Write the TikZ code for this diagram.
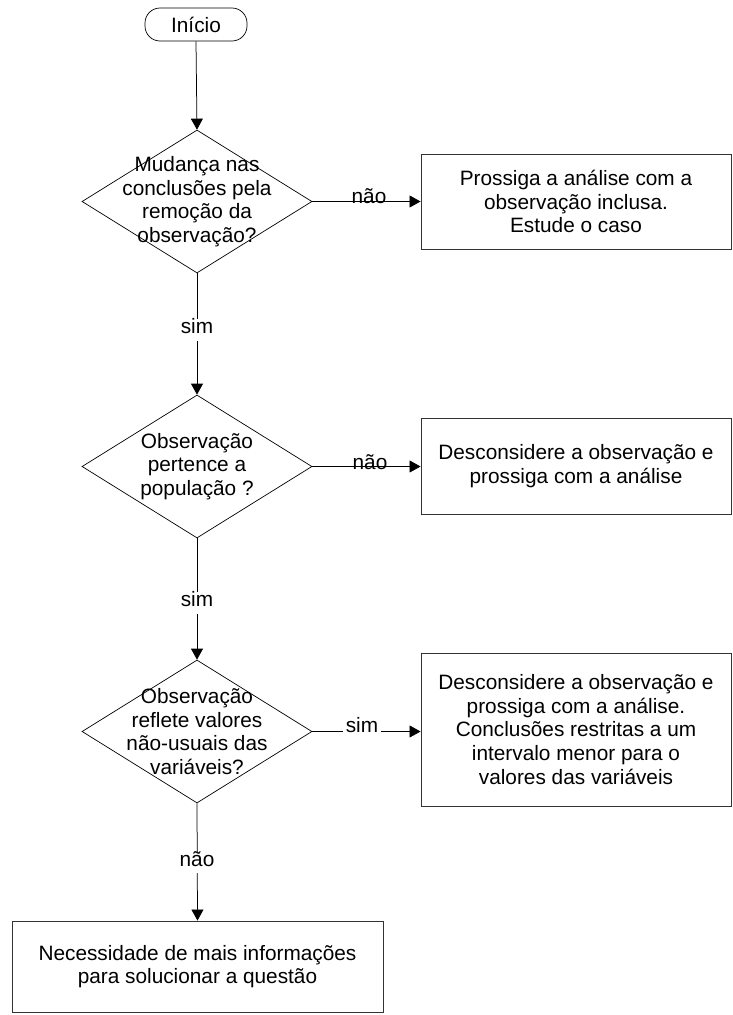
\documentclass[tikz,border=0pt]{standalone}
\usepackage{fontspec}
\setmainfont{Liberation Sans}
\usetikzlibrary{shapes.geometric,arrows.meta}

\tikzset{
  txt/.style={font=\fontsize{20.8}{23.6}\selectfont, align=center, text=black},
  procbox/.style={draw=black!80, line width=0.9pt, rectangle, inner sep=0pt},
  decision/.style={draw=black, line width=0.7pt, diamond, inner sep=0pt,
                   minimum width=230pt, minimum height=143pt},
  terminal/.style={draw=black, line width=0.7pt, rectangle, rounded corners=15pt,
                   minimum width=102pt, minimum height=33pt, inner sep=0pt},
  arr/.style={draw=black, line width=0.75pt, -{Triangle[length=11pt,width=12pt]}},
  vlbl/.style={txt, fill=white, text height=0.74em, text depth=0pt, inner xsep=3pt, inner ysep=7pt},
  hlbl/.style={txt, anchor=base, inner sep=0pt},
}

\begin{document}
\begin{tikzpicture}[x=1pt,y=-1pt]
  \useasboundingbox (0,0) rectangle (732,1015);

  % start
  \node[terminal, txt] (ini) at (196,24.5) {Início};

  % decisions (shapes only, text set separately so it may cross the outline)
  \node[decision] (d1) at (197,201.5) {};
  \node[decision] (d2) at (197,466.5) {};
  \node[decision] (d3) at (197,731.5) {};
  \node[txt] (t1) at (d1.center) {Mudança nas\\conclusões pela\\remoção da\\observação?};
  \node[txt] (t2) at (d2.center) {Observação\\pertence a\\população ?};
  \node[txt] (t3) at (d3.center) {Observação\\reflete valores\\não-usuais das\\variáveis?};

  % actions
  \node[procbox, txt, minimum width=310pt, minimum height=95pt] (b1) at (576,201.5)
    {Prossiga a análise com a\\observação inclusa.\\Estude o caso};
  \node[procbox, txt, minimum width=310pt, minimum height=96pt] (b2) at (576,466)
    {Desconsidere a observação e\\prossiga com a análise};
  \node[procbox, txt, minimum width=310pt, minimum height=153pt] (b3) at (576,729.5)
    {Desconsidere a observação e\\prossiga com a análise.\\Conclusões restritas a um\\intervalo menor para o\\valores das variáveis};
  \node[procbox, txt, minimum width=371pt, minimum height=91pt] (b4) at (197.5,966.5)
    {Necessidade de mais informações\\para solucionar a questão};

  % connectors
  \draw[arr] (ini.south) -- (d1.north);
  \draw[arr] (d1.east) -- (b1.west);
  \draw[arr] (d1.south) -- (d2.north);
  \draw[arr] (d2.east) -- (d2.east -| b2.west);
  \draw[arr] (d2.south) -- (d3.north);
  \draw[arr] (d3.east) -- (d3.east -| b3.west);
  \draw[arr] (d3.south) -- (b4.north);

  % connector labels
  \node[hlbl] (n1) at (369,203) {não};
  \node[hlbl] (n2) at (370,469.5) {não};
  \node[txt, fill=white, anchor=base, inner xsep=3pt, inner ysep=1pt] (s3) at (362,732.5) {sim};
  \node[vlbl] (s1) at (197,330) {sim};
  \node[vlbl] (s2) at (197,603) {sim};
  \node[vlbl] (n3) at (197,862.5) {não};
\end{tikzpicture}
\end{document}
